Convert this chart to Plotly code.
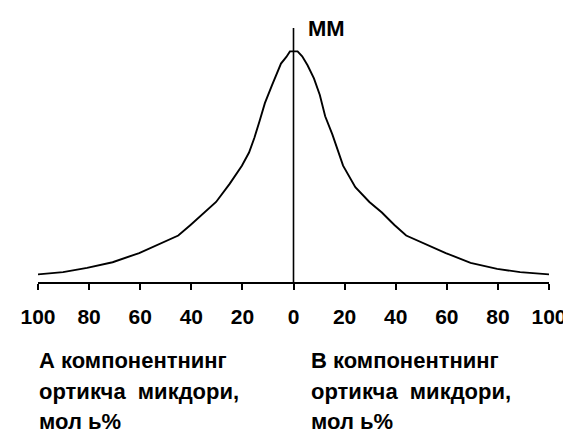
import plotly.graph_objects as go

# Composition axis (signed: negative = A side, positive = B side), mol%
composition = [-100, -90.2, -80.8, -70.8, -60.4, -51.4, -45.1, -40.3, -35.4, -30.3,
               -25.0, -20.2, -17.4, -15.3, -13.3, -11.2, -8.4, -4.9, -2.8, -1.4,
               1.6, 3.4, 5.5, 8.0, 10.3, 12.4, 15.2, 19.4, 24.2, 29.7,
               34.6, 39.5, 44.1, 49.9, 59.6, 69.3, 79.7, 88.7, 100]
# Property value (arbitrary units)
values = [7.7, 10, 14.3, 20, 29.3, 39.3, 47, 57.7, 69.3, 81,
          99.3, 117.7, 131, 146, 162.7, 181, 199.3, 221, 227.7, 233.3,
          233.3, 228.3, 219.3, 206, 189.3, 167.7, 149.3, 117.7, 96, 81,
          70.3, 57.7, 47, 40.3, 29.3, 19.3, 13.3, 10, 7.7]

tick_vals = [-100, -80, -60, -40, -20, 0, 20, 40, 60, 80, 100]
tick_text = ["100", "80", "60", "40", "20", "0", "20", "40", "60", "80", "100"]

label_top = "ММ"
lines_a = ["А компонентнинг", "ортикча  микдори,", "мол ь%"]
lines_b = ["В компонентнинг", "ортикча  микдори,", "мол ь%"]
line_y = [-0.311, -0.431, -0.551]

FONT = "Liberation Sans, Arial, sans-serif"

fig = go.Figure()
fig.add_trace(go.Scatter(x=composition, y=values, mode="lines",
                         line=dict(color="black", width=1.9), showlegend=False,
                         hoverinfo="skip"))

fig.add_shape(type="line", xref="x", yref="y", x0=0, x1=0, y0=0, y1=257,
              line=dict(color="black", width=1.6))

annotations = [
    dict(text="<b>%s</b>" % label_top, x=0, xref="x", y=1.0, yref="paper",
         xanchor="left", yanchor="middle", xshift=12, yshift=0, showarrow=False,
         font=dict(family=FONT, size=22, color="black")),
]
for txt, yy in zip(lines_a, line_y):
    annotations.append(dict(text="<b>%s</b>" % txt, x=-0.002, xref="paper", y=yy, yref="paper",
                            xanchor="left", yanchor="middle", align="left", showarrow=False,
                            font=dict(family=FONT, size=22, color="black")))
for txt, yy in zip(lines_b, line_y):
    annotations.append(dict(text="<b>%s</b>" % txt, x=0.530, xref="paper", y=yy, yref="paper",
                            xanchor="left", yanchor="middle", align="left", showarrow=False,
                            font=dict(family=FONT, size=22, color="black")))

fig.update_layout(
    width=571, height=437,
    margin=dict(l=28, r=18, t=20, b=163),
    paper_bgcolor="white", plot_bgcolor="white",
    font=dict(family=FONT, color="black"),
    xaxis=dict(range=[-100, 100], tickmode="array", tickvals=tick_vals, ticktext=tick_text,
               showline=True, linecolor="black", linewidth=1.6,
               ticks="outside", ticklen=6, tickwidth=1.6, tickcolor="black",
               showgrid=False, zeroline=False, ticklabelstandoff=9,
               ticklabeloverflow="allow",
               tickfont=dict(family=FONT, size=21, color="black", weight="bold")),
    yaxis=dict(range=[0, 257], visible=False, showgrid=False, zeroline=False),
    annotations=annotations,
)

fig.write_html("out.html")
